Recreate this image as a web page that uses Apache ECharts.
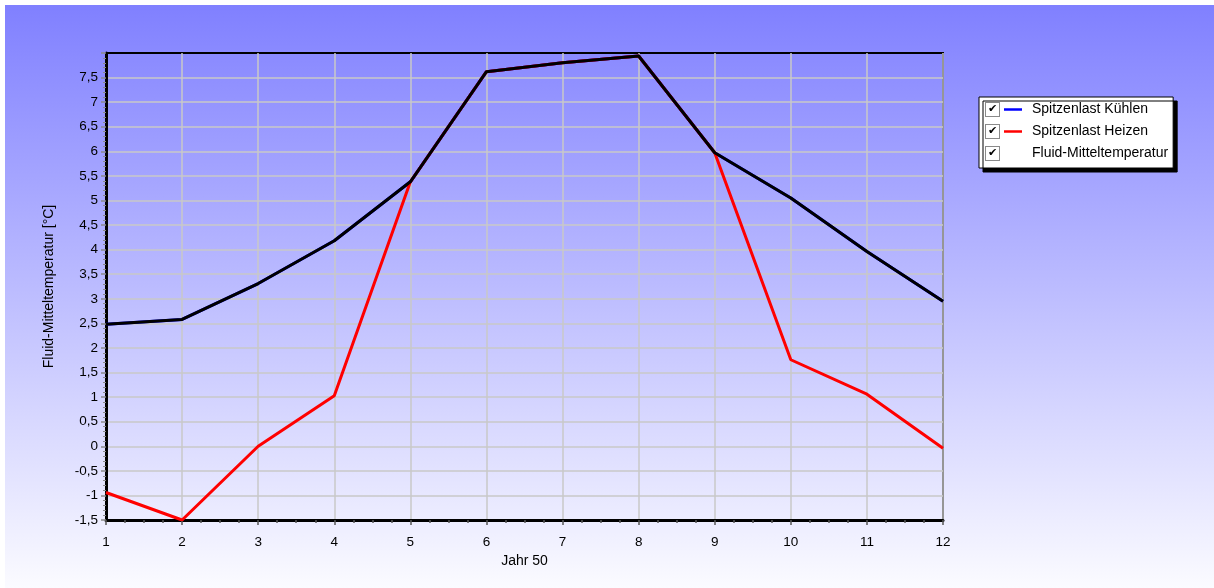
<!DOCTYPE html>
<html>
<head>
<meta charset="utf-8">
<script src="https://cdn.jsdelivr.net/npm/echarts@6/dist/echarts.min.js"></script>
<style>
  html, body { margin: 0; padding: 0; background: #ffffff; }
  #chart { position: absolute; left: 5px; top: 5px; width: 1209px; height: 583px; }
</style>
</head>
<body>
<div id="chart"></div>
<script>
// ---- data ----
var months = [1, 2, 3, 4, 5, 6, 7, 8, 9, 10, 11, 12];
var seriesNames = ['Spitzenlast Kühlen', 'Spitzenlast Heizen', 'Fluid-Mitteltemperatur'];
var kuehlen = [2.48, 2.58, 3.31, 4.18, 5.38, 7.62, 7.80, 7.94, 5.97, 5.05, 3.96, 2.95];
var heizen  = [-0.94, -1.50, 0.00, 1.03, 5.38, 7.62, 7.80, 7.94, 5.97, 1.76, 1.06, -0.04];
var fluid   = [2.48, 2.58, 3.31, 4.18, 5.38, 7.62, 7.80, 7.94, 5.97, 5.05, 3.96, 2.95];
var xAxisName = 'Jahr 50';
var yAxisName = 'Fluid-Mitteltemperatur [°C]';

function pairs(vals) { return months.map(function (m, i) { return [m, vals[i]]; }); }

var chart = echarts.init(document.getElementById('chart'));
var font = 'Liberation Sans, Arial, sans-serif';
var legendKey = {};
legendKey[seriesNames[0]] = 'lb';
legendKey[seriesNames[1]] = 'lr';
legendKey[seriesNames[2]] = 'ln';

chart.setOption({
  animation: false,
  backgroundColor: new echarts.graphic.LinearGradient(0, 0, 0, 1, [
    { offset: 0, color: '#8080ff' },
    { offset: 1, color: '#fbfbff' }
  ]),
  grid: {
    left: 101, right: 271, top: 48, bottom: 68,
    show: true, borderColor: '#000', borderWidth: 2, backgroundColor: 'transparent'
  },
  legend: {
    orient: 'vertical',
    left: 974, top: 92,
    padding: [5, 5, 7, 2],
    itemGap: 7,
    itemWidth: 0, itemHeight: 0,
    icon: 'rect',
    itemStyle: { opacity: 0 },
    selectedMode: false,
    backgroundColor: '#ffffff',
    borderColor: '#000', borderWidth: 1,
    shadowColor: '#000', shadowBlur: 0, shadowOffsetX: 4, shadowOffsetY: 4,
    data: seriesNames,
    formatter: function (name) {
      return '{cb|✔}{sp1|}{' + legendKey[name] + '|}{sp2|}{t|' + name + '}';
    },
    textStyle: {
      fontFamily: font, fontSize: 14, color: '#000',
      rich: {
        cb: { width: 13, height: 13, lineHeight: 16, borderColor: '#8a8a8a', borderWidth: 1, backgroundColor: '#fff', align: 'center', verticalAlign: 'middle', fontSize: 11, color: '#000', fontFamily: 'DejaVu Sans' },
        sp1: { width: 5, height: 2 },
        sp2: { width: 10, height: 2 },
        lb: { width: 18, height: 2.5, backgroundColor: '#0000ff', verticalAlign: 'middle' },
        lr: { width: 18, height: 2.5, backgroundColor: '#ff0000', verticalAlign: 'middle' },
        ln: { width: 18, height: 2.5, verticalAlign: 'middle' },
        t: { fontFamily: font, fontSize: 14, color: '#000', lineHeight: 16, verticalAlign: 'middle' }
      }
    }
  },
  xAxis: {
    type: 'value',
    min: 1, max: 12, interval: 1,
    name: xAxisName,
    nameLocation: 'middle',
    nameGap: 34,
    nameTextStyle: { fontFamily: font, fontSize: 14, color: '#000' },
    axisLine: { show: true, onZero: false, lineStyle: { color: '#000', width: 3 } },
    axisTick: { show: true, length: 5, lineStyle: { color: '#555', width: 1.5 } },
    minorTick: { show: true, splitNumber: 4, length: 3, lineStyle: { color: '#555', width: 1.5 } },
    axisLabel: { fontFamily: font, fontSize: 13.5, color: '#000', margin: 15 },
    splitLine: { show: true, showMinLine: false, lineStyle: { color: '#c8c8c8', width: 1.5 } }
  },
  yAxis: {
    type: 'value',
    min: -1.5, max: 8, interval: 0.5,
    name: yAxisName,
    nameLocation: 'middle',
    nameGap: 50,
    nameTextStyle: { fontFamily: font, fontSize: 14, color: '#000' },
    axisLine: { show: true, onZero: false, lineStyle: { color: '#000', width: 3 } },
    axisTick: { show: true, length: 5, lineStyle: { color: '#8a8a8a', width: 1.5 } },
    minorTick: { show: true, splitNumber: 5, length: 3, lineStyle: { color: '#8a8a8a', width: 1 } },
    axisLabel: {
      fontFamily: font, fontSize: 13.5, color: '#000', margin: 8,
      formatter: function (v) {
        if (v >= 7.99) return '';
        return String(v).replace('.', ',');
      }
    },
    splitLine: { show: true, showMaxLine: false, lineStyle: { color: '#c8c8c8', width: 1.5 } }
  },
  series: [
    { name: seriesNames[0], type: 'line', data: pairs(kuehlen), symbol: 'none', lineStyle: { color: '#0000ff', width: 3 }, itemStyle: { color: '#0000ff' } },
    { name: seriesNames[1], type: 'line', data: pairs(heizen), symbol: 'none', lineStyle: { color: '#ff0000', width: 3 }, itemStyle: { color: '#ff0000' } },
    { name: seriesNames[2], type: 'line', data: pairs(fluid), symbol: 'none', lineStyle: { color: '#000000', width: 3 }, itemStyle: { color: '#000000' } }
  ]
});
</script>
</body>
</html>
